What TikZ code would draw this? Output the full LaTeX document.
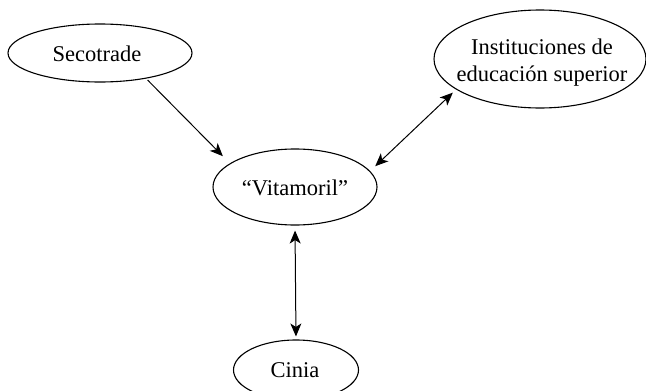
\documentclass[tikz,border=0pt]{standalone}
\usepackage{fontspec}
\setmainfont{Liberation Serif}
\usetikzlibrary{shapes.geometric,arrows.meta}
\begin{document}
\begin{tikzpicture}[x=1pt,y=-1pt,
  oval/.style={draw,ellipse,line width=1.1pt,inner sep=0pt},
  lbl/.style={font=\fontsize{22.5}{27}\selectfont,align=center,inner sep=0pt},
  conn/.style={line width=1pt,-{Stealth[length=13pt,width=11pt,inset=3.5pt]}},
  bconn/.style={line width=1pt,{Stealth[length=13pt,width=11pt,inset=3.5pt]}-{Stealth[length=13pt,width=11pt,inset=3.5pt]}}]
\useasboundingbox (0,0) rectangle (646,391);
\clip (0,0) rectangle (646,391);
\node[oval,minimum width=184pt,minimum height=58pt] (seco) at (100,53) {};
\node[lbl] (secot) at (97,54) {Secotrade};
\node[oval,minimum width=212pt,minimum height=98pt] (inst) at (540,59) {};
\node[lbl] (instt) at (542,63) {Instituciones de\\educación superior};
\node[oval,minimum width=164pt,minimum height=76pt] (vit) at (295,187) {};
\node[lbl] (vitt) at (295,188) {“Vitamoril”};
\node[oval,minimum width=125pt,minimum height=60pt] (cinia) at (296,370) {};
\node[lbl] (ciniat) at (295,370) {Cinia};
\draw[conn,shorten <=2pt,shorten >=10pt] (seco.-29) -- (vit.160);
\draw[bconn,shorten <=7pt,shorten >=4.5pt] (vit.12) -- (inst.-160);
\draw[bconn,shorten <=5pt,shorten >=3pt] (vit.south) -- (cinia.north);
\end{tikzpicture}
\end{document}
